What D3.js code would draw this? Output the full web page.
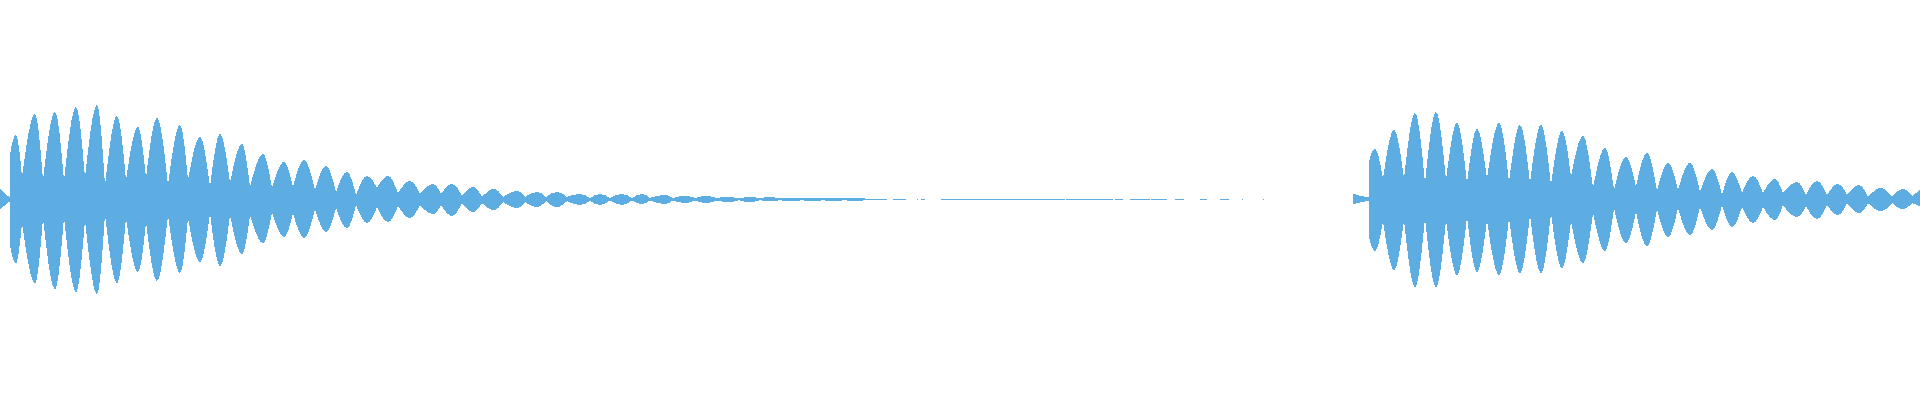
<!DOCTYPE html>
<html>
<head>
<meta charset="utf-8">
<script src="https://cdn.jsdelivr.net/npm/d3@7"></script>
<style>
  body { margin: 0; background: #fff; }
  svg { display: block; }
</style>
</head>
<body>
<svg class="wave"></svg>
<script>
var width = 1920, height = 400;
var duration = 9600; // ms

// envelope keypoints: [time ms, max amplitude, min amplitude]
const waveA = [
  [0, 0.053, -0.048], [45, 0.013, -0.013], [48, 0.013, -0.013],
  [50, 0.223, -0.228], [80, 0.323, -0.318], [110, 0.113, -0.118],
  [175, 0.428, -0.418], [215, 0.098, -0.093], [275, 0.438, -0.448],
  [320, 0.093, -0.088], [380, 0.463, -0.463], [425, 0.108, -0.103],
  [485, 0.473, -0.473], [525, 0.073, -0.073], [585, 0.418, -0.418],
  [630, 0.098, -0.093], [690, 0.363, -0.363], [730, 0.108, -0.113],
  [785, 0.408, -0.408], [840, 0.073, -0.078], [900, 0.373, -0.368],
  [940, 0.098, -0.093], [1000, 0.313, -0.313], [1050, 0.063, -0.068],
  [1100, 0.328, -0.333], [1150, 0.083, -0.078], [1210, 0.278, -0.273],
  [1250, 0.063, -0.078], [1315, 0.228, -0.218], [1360, 0.058, -0.063],
  [1420, 0.188, -0.188], [1465, 0.063, -0.068], [1520, 0.198, -0.193],
  [1575, 0.048, -0.048], [1630, 0.168, -0.163], [1680, 0.038, -0.043],
  [1735, 0.138, -0.143], [1780, 0.023, -0.028], [1835, 0.118, -0.118],
  [1885, 0.058, -0.038], [1940, 0.118, -0.113], [1990, 0.033, -0.033],
  [2050, 0.093, -0.093], [2100, 0.028, -0.028], [2165, 0.078, -0.073],
  [2205, 0.028, -0.028], [2260, 0.078, -0.083], [2310, 0.018, -0.018],
  [2365, 0.063, -0.063], [2410, 0.013, -0.018], [2470, 0.053, -0.053],
  [2515, 0.013, -0.013], [2585, 0.043, -0.043], [2625, 0.013, -0.013],
  [2685, 0.038, -0.038], [2730, 0.013, -0.008], [2785, 0.038, -0.038],
  [2835, 0.013, -0.008], [2900, 0.028, -0.028], [2950, 0.008, -0.008],
  [3000, 0.028, -0.028], [3050, 0.008, -0.005], [3110, 0.028, -0.028],
  [3160, 0.008, -0.005], [3210, 0.028, -0.023], [3250, 0.008, -0.005],
  [3325, 0.023, -0.023], [3365, 0.008, -0.005], [3425, 0.018, -0.018],
  [3475, 0.008, -0.005], [3530, 0.018, -0.018], [3585, 0.008, -0.005],
  [3640, 0.013, -0.013], [3695, 0.006, -0.004], [3750, 0.013, -0.013],
  [3800, 0.006, -0.004], [3845, 0.012, -0.008], [3900, 0.006, -0.004],
  [3950, 0.010, -0.008], [4010, 0.006, -0.004], [4065, 0.010, -0.008],
  [4115, 0.006, -0.004], [4165, 0.010, -0.007], [4225, 0.006, -0.004],
  [4275, 0.010, -0.007], [4330, 0.004, -0.004]
];

const waveB = [
  [6765, 0.028, -0.023], [6775, 0.026, -0.022], [6800, 0.018, -0.015],
  [6840, 0.013, -0.008], [6843, 0.013, -0.008], [6845, 0.188, -0.188],
  [6875, 0.253, -0.258], [6915, 0.103, -0.108], [6970, 0.348, -0.353],
  [7020, 0.103, -0.103], [7075, 0.433, -0.438], [7125, 0.083, -0.093],
  [7180, 0.438, -0.438], [7230, 0.098, -0.103], [7285, 0.383, -0.378],
  [7335, 0.083, -0.088], [7385, 0.353, -0.363], [7435, 0.103, -0.103],
  [7495, 0.383, -0.378], [7545, 0.088, -0.093], [7600, 0.373, -0.368],
  [7650, 0.083, -0.078], [7705, 0.373, -0.368], [7755, 0.073, -0.068],
  [7810, 0.343, -0.343], [7855, 0.113, -0.108], [7915, 0.318, -0.318],
  [7965, 0.058, -0.068], [8025, 0.258, -0.258], [8070, 0.048, -0.043],
  [8130, 0.213, -0.218], [8180, 0.063, -0.063], [8235, 0.233, -0.233],
  [8285, 0.043, -0.048], [8340, 0.183, -0.188], [8390, 0.048, -0.043],
  [8450, 0.183, -0.178], [8500, 0.038, -0.038], [8560, 0.153, -0.153],
  [8610, 0.023, -0.028], [8660, 0.138, -0.138], [8710, 0.033, -0.038],
  [8765, 0.118, -0.118], [8815, 0.033, -0.038], [8875, 0.103, -0.103],
  [8915, 0.033, -0.028], [8985, 0.088, -0.088], [9030, 0.023, -0.033],
  [9085, 0.093, -0.098], [9135, 0.023, -0.028], [9190, 0.078, -0.078],
  [9235, 0.023, -0.018], [9295, 0.073, -0.068], [9340, 0.013, -0.018],
  [9405, 0.058, -0.058], [9460, 0.013, -0.018], [9515, 0.053, -0.048],
  [9560, 0.018, -0.018], [9600, 0.048, -0.033]
];

// low level noise between the two notes: [start ms, end ms]
const tailSegments = [
  [4330, 4435], [4465, 4530], [4585, 4590], [4605, 4625],
  [4705, 5325], [5330, 5565], [5575, 5615], [5650, 5750],
  [5755, 5835], [5875, 5920], [6000, 6035], [6100, 6145],
  [6210, 6215], [6315, 6320]
];
const tailLevel = 0.004;

var color = "#5dade2";

var x = d3.scaleLinear().domain([0, duration]).range([0, width]);
var y = d3.scaleLinear().domain([-1, 1]).range([399.5, -0.5]);

// cut the envelope at its pinches so every beat lobe gets round tops and sharp necks
function lobes(wave) {
    var out = [], cur = [wave[0]];
    for (var i = 1; i < wave.length; i++) {
        cur.push(wave[i]);
        var isNeck = i < wave.length - 1 &&
            wave[i][1] <= wave[i - 1][1] && wave[i][1] <= wave[i + 1][1];
        if (isNeck) { out.push(cur); cur = [wave[i]]; }
    }
    if (cur.length > 1) out.push(cur);
    return out;
}

const svg = d3.select(".wave")
    .attr("width", width)
    .attr("height", height);

var area = d3.area()
    .x(d => x(d[0]))
    .y0(d => y(d[2]))
    .y1(d => y(d[1]))
    .curve(d3.curveMonotoneX);

svg.append("g")
  .selectAll("path")
  .data([waveA, waveB])
  .join("path")
    .attr("d", w => lobes(w).map(area).join(""))
    .attr("fill", color)
    .attr("shape-rendering", "crispEdges");

svg.append("g")
  .selectAll("rect")
  .data(tailSegments)
  .join("rect")
    .attr("x", d => x(d[0]))
    .attr("width", d => Math.max(1, x(d[1]) - x(d[0])))
    .attr("y", y(tailLevel))
    .attr("height", y(-tailLevel) - y(tailLevel))
    .attr("fill", color)
    .attr("shape-rendering", "crispEdges");
</script>
</body>
</html>
